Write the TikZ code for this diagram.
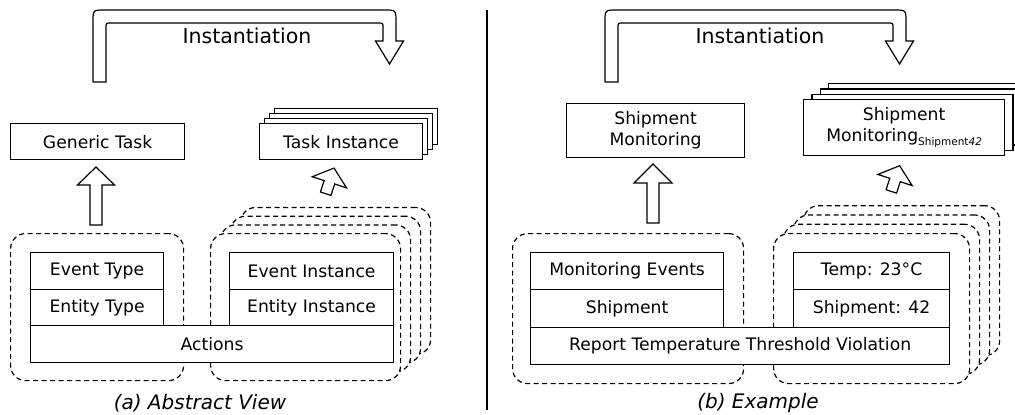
\documentclass[tikz,border=0pt]{standalone}
\usepackage{fontspec}
\setmainfont{DejaVu Sans}
\usetikzlibrary{calc}

% Bent "instantiation" block arrow: #1 = left outer x, #2 = right outer x
\newcommand{\InstArrow}[2]{%
  \draw[blockarrow] (#1,82) -- (#1,22) .. controls (#1,10) .. ({#1+12},10)
    -- ({#2-12},10) .. controls (#2,10) .. (#2,22) -- (#2,41) -- ({#2+7.5},41)
    -- ({#2-6.5},64) -- ({#2-20.5},41) -- ({#2-13},41) -- ({#2-13},28)
    .. controls ({#2-13},23) .. ({#2-18},23) -- ({#1+18},23)
    .. controls ({#1+13},23) .. ({#1+13},28) -- ({#1+13},82) -- cycle;}

% Small tilted block arrow, centred at the base of its head
\newcommand{\TiltArrow}[1]{%
  \begin{scope}[shift={#1}, rotate=-18]
    \draw[blockarrow] (-5.5,12) -- (-5.5,0) -- (-18,0) -- (0,-15) -- (18,0)
      -- (5.5,0) -- (5.5,12) -- cycle;
  \end{scope}}

\begin{document}
\begin{tikzpicture}[x=1pt,y=-1pt,
  every node/.style={font=\fontsize{17.2}{21}\selectfont},
  box/.style={draw=black, line width=1.2pt, fill=white, inner sep=0pt,
    anchor=north west, align=center},
  group/.style={draw=black, line width=1.2pt, dash pattern=on 5pt off 3.5pt,
    rounded corners=15pt, fill=white, inner sep=0pt, anchor=north west},
  blockarrow/.style={draw=black, line width=1.2pt, fill=white, line join=miter},
  label/.style={font=\fontsize{20.5}{24}\selectfont},
  caption/.style={font=\fontsize{20}{24}\selectfont\itshape}]
\useasboundingbox (0,0) rectangle (1015,415);
\clip (0,0) rectangle (1015,415);

% ---------------- (a) Abstract View ----------------
\InstArrow{93}{396}
\node[label] (insta) at (247,36) {Instantiation};

\node[box, minimum width=174pt, minimum height=36pt] (gt) at (10,123) {Generic Task};

\foreach \k in {3,2,1}
  \node[box, minimum width=163pt, minimum height=36pt] (ti\k) at ({259+5*\k},{123-5*\k}) {};
\node[box, minimum width=163pt, minimum height=36pt] (ti) at (259,123) {Task Instance};

\draw[blockarrow] (90,225) -- (90,185) -- (77.5,185) -- (96,167) -- (114.5,185)
  -- (102,185) -- (102,225) -- cycle;
\TiltArrow{(329.4,182.3)}

\node[group, minimum width=173pt, minimum height=147pt] (tg) at (10,233) {};
\foreach \k in {3,2,1}
  \node[group, minimum width=190pt, minimum height=147pt] (ig\k) at ({210+10*\k},{233-8.7*\k}) {};
\node[group, minimum width=190pt, minimum height=147pt] (ig) at (210,233) {};

\node[box, minimum width=133pt, minimum height=37pt] (et) at (30,252) {Event Type};
\node[box, minimum width=133pt, minimum height=36pt] (ent) at (30,289) {Entity Type};
\node[box, minimum width=164pt, minimum height=37pt] (ei) at (229,252) {Event Instance};
\node[box, minimum width=164pt, minimum height=36pt] (eni) at (229,289) {Entity Instance};
\node[box, minimum width=363pt, minimum height=37pt] (act) at (30,325) {Actions};

\node[caption] (capa) at (200,403) {(a) Abstract View};

% divider
\draw[line width=1.2pt] (487,10) -- (487,410);

% ---------------- (b) Example ----------------
\InstArrow{605}{906}
\node[label] (instb) at (760,36) {Instantiation};

\node[box, minimum width=178pt, minimum height=54pt] (sm) at (566,103) {Shipment\\Monitoring};

\foreach \k in {3,2,1}
  \node[box, minimum width=201pt, minimum height=56pt] (smi\k) at ({803+8.3*\k},{99-5.3*\k}) {};
\node[box, minimum width=201pt, minimum height=56pt] (smi) at (803,99)
  {Shipment\\Monitoring\raisebox{-4pt}{\fontsize{10.5}{12}\selectfont Shipment\textit{42}}};

\draw[blockarrow] (647,223) -- (647,183) -- (634,183) -- (653,164) -- (672,183)
  -- (659,183) -- (659,223) -- cycle;
\TiltArrow{(895,180)}

\node[group, minimum width=231pt, minimum height=150pt] (mg) at (512,233) {};
\foreach \k in {3,2,1}
  \node[group, minimum width=196pt, minimum height=150pt] (sg\k) at ({773+10*\k},{233-9.3*\k}) {};
\node[group, minimum width=196pt, minimum height=150pt] (sg) at (773,233) {};

\node[box, minimum width=193pt, minimum height=37pt] (me) at (530,252) {Monitoring Events};
\node[box, minimum width=193pt, minimum height=38pt] (sh) at (530,289) {Shipment};
\node[box, minimum width=156pt, minimum height=37pt] (tmp) at (793,252) {Temp: 23°C};
\node[box, minimum width=156pt, minimum height=38pt] (sh42) at (793,289) {Shipment: 42};
\node[box, minimum width=419pt, minimum height=37pt] (rep) at (530,327) {Report Temperature Threshold Violation};

\node[caption] (capb) at (758,403) {(b) Example};
\end{tikzpicture}
\end{document}
